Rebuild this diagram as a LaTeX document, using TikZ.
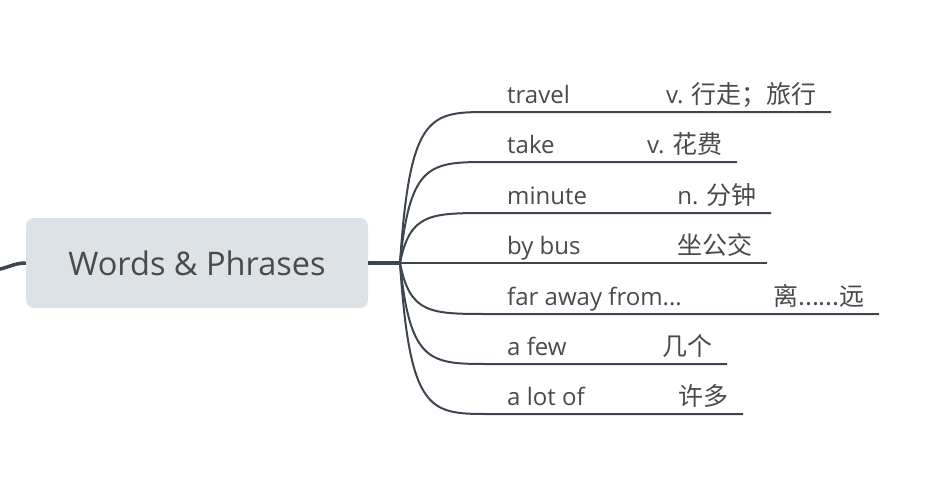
\documentclass[tikz,border=0pt]{standalone}
\usepackage{fontspec}
\setmainfont{Open Sans}
\newfontfamily\cjk{Noto Sans CJK SC}
\usetikzlibrary{positioning,calc}
\definecolor{linecol}{HTML}{3C4550}
\definecolor{textcol}{HTML}{4A4A4A}
\definecolor{boxfill}{HTML}{DCE2E5}
\newcommand{\trail}{...}
\newcommand{\zh}[1]{{\cjk\fontsize{25}{25}\selectfont #1}}

\begin{document}
\begin{tikzpicture}[
    x=1pt, y=-1pt,
    topic/.style={fill=boxfill, rounded corners=8pt, minimum width=342pt, minimum height=90pt, inner sep=0pt, text=textcol, font=\fontsize{32.5}{32.5}\selectfont},
    word/.style={anchor=base west, inner sep=0pt, text=textcol, font=\fontsize{24}{24}\selectfont},
    meaning/.style={anchor=base east, inner sep=0pt, text=textcol, font=\fontsize{24}{24}\selectfont},
    trunk/.style={draw=linecol, line width=3.5pt},
    branch/.style={draw=linecol, line width=2pt}
]
    \useasboundingbox (0,0) rectangle (948,482);

    % Central topic
    \node[topic] (topic) at (197,263) {Words \& Phrases};
    \coordinate (parent) at (-6,270);
    \coordinate (hub) at (400,263);

    % Trunk
    \draw[trunk] (parent) to[out=5, in=180] (topic.west);
    \draw[trunk] (topic.east) -- (hub);

    % Branches
    \foreach \i/\y/\e/\en/\mean in {
        1/112/831/travel/{v. \zh{行走；旅行}},
        2/162/737/take/{v. \zh{花费}},
        3/213/771/minute/{n. \zh{分钟}},
        4/263/767/by bus/{\zh{坐公交}},
        5/314/879/far away from\trail/{\zh{离\trail\trail 远}},
        6/364/727/a few/{\zh{几个}},
        7/414/743/a lot of/{\zh{许多}}
    }{
        \coordinate (end\i) at (\e,\y);
        \draw[branch] (hub) .. controls (410,\y) and (430,\y) .. (490,\y) -- (end\i);
        \node[word] (word\i) at (507,\y-9) {\en};
        \node[meaning] (mean\i) at (\e-14,\y-9) {\mean};
    }
\end{tikzpicture}
\end{document}
